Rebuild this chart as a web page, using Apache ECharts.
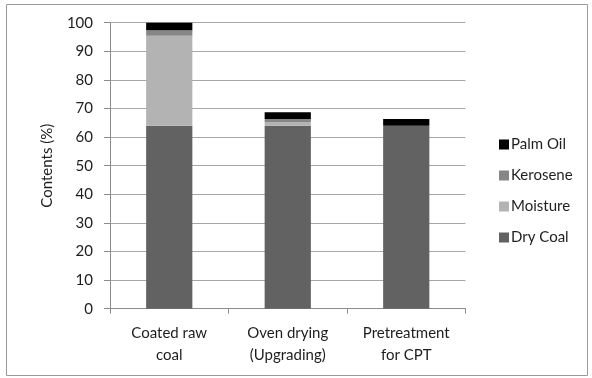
<!DOCTYPE html>
<html>
<head>
<meta charset="utf-8">
<script src="https://cdn.jsdelivr.net/npm/echarts@6/dist/echarts.min.js"></script>
<style>html,body{margin:0;padding:0;background:#fff;}#c{width:592px;height:378px;}</style>
</head>
<body>
<div id="c"></div>
<script>
const categories = ['Coated raw\ncoal', 'Oven drying\n(Upgrading)', 'Pretreatment\nfor CPT'];
const dryCoal = [64, 64, 64];
const moisture = [31.4, 1.2, 0];
const kerosene = [2.0, 1.1, 0];
const palmOil = [2.6, 2.4, 2.3];
const yTicks = [0, 10, 20, 30, 40, 50, 60, 70, 80, 90, 100];

const FONT = 'Lato';
const TXT = '#1e1e1e';
const chart = echarts.init(document.getElementById('c'));
function s(name, data, color) {
  return { name, type: 'bar', stack: 'all', data, barWidth: '39%',
    itemStyle: { color }, emphasis: { disabled: true } };
}
chart.setOption({
  animation: false,
  textStyle: { fontFamily: FONT },
  graphic: [{ type: 'rect', shape: { x: 6.5, y: 4.5, width: 581, height: 371 },
    style: { fill: 'none', stroke: '#9a9a9a', lineWidth: 1 } }],
  grid: { left: 110, right: 126.5, top: 22.7, bottom: 69.3 },
  legend: {
    orient: 'vertical', left: 494, top: 132, itemWidth: 10, itemHeight: 10, itemGap: 16,
    icon: 'rect', data: ['Palm Oil', 'Kerosene', 'Moisture', 'Dry Coal'],
    textStyle: { fontFamily: FONT, fontSize: 15, color: TXT, padding: [0, 0, 0, -3] }
  },
  xAxis: {
    type: 'category', data: categories,
    axisLine: { lineStyle: { color: '#8c8c8c', width: 1 } },
    axisTick: { show: true, length: 5, lineStyle: { color: '#8c8c8c' } },
    axisLabel: { fontFamily: FONT, fontSize: 15, color: TXT, lineHeight: 22, margin: 13 }
  },
  yAxis: {
    type: 'value', min: yTicks[0], max: yTicks[yTicks.length - 1], interval: 10,
    name: 'Contents (%)', nameLocation: 'middle', nameGap: 55,
    nameTextStyle: { fontFamily: FONT, fontSize: 15, color: TXT },
    axisLine: { show: true, lineStyle: { color: '#8c8c8c', width: 1 } },
    axisTick: { show: true, length: 6, lineStyle: { color: '#8c8c8c' } },
    axisLabel: { fontFamily: FONT, fontSize: 15, color: TXT, margin: 17 },
    splitLine: { lineStyle: { color: '#a6a6a6', width: 1 } }
  },
  series: [
    s('Dry Coal', dryCoal, '#626262'),
    s('Moisture', moisture, '#b3b3b3'),
    s('Kerosene', kerosene, '#868686'),
    s('Palm Oil', palmOil, '#000000')
  ]
});
</script>
</body>
</html>
